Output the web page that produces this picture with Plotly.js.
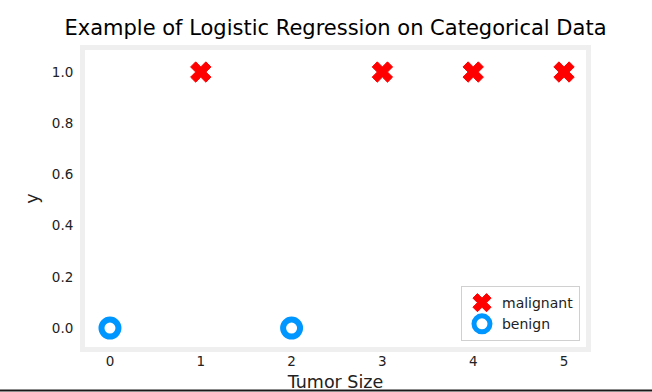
<!DOCTYPE html>
<html>
<head>
<meta charset="utf-8">
<script src="https://cdn.plot.ly/plotly-3.0.1.min.js"></script>
<style>html,body{margin:0;padding:0;background:#fff;}#chart{width:652px;height:392px;}</style>
</head>
<body>
<div id="chart"></div>
<script>
const titleText = "Example of Logistic Regression on Categorical Data";
const xLabel = "Tumor Size";
const yLabel = "y";
const malignantX = [1, 3, 4, 5];
const malignantY = [1, 1, 1, 1];
const benignX = [0, 2];
const benignY = [0, 0];
const xTicks = [0, 1, 2, 3, 4, 5];
const yTicks = [0.0, 0.2, 0.4, 0.6, 0.8, 1.0];
const yTickText = ["0.0", "0.2", "0.4", "0.6", "0.8", "1.0"];

const font = "DejaVu Sans, sans-serif";
const W = 652, H = 392;
const m = {l: 85, r: 66, t: 50, b: 45};
const pw = W - m.l - m.r, ph = H - m.t - m.b;
const bw = 5;

const traces = [
  {x: malignantX, y: malignantY, mode: 'markers', name: 'malignant', type: 'scatter',
   marker: {symbol: 'x', size: 18, color: '#ff0000', line: {width: 1, color: '#ff0000'}}},
  {x: benignX, y: benignY, mode: 'markers', name: 'benign', type: 'scatter',
   marker: {symbol: 'circle-open', size: 17, color: '#0096ff', line: {width: 6, color: '#0096ff'}}}
];

const layout = {
  width: W, height: H, margin: m,
  paper_bgcolor: '#ffffff', plot_bgcolor: '#ffffff',
  font: {family: font, size: 13.5, color: '#000000'},
  title: {text: titleText, font: {family: font, size: 21, color: '#000'}, x: (m.l + pw/2)/W, xanchor: 'center', y: 1 - 28/H, yanchor: 'middle'},
  showlegend: true,
  legend: {x: 0.988, xanchor: 'right', y: 0.02, yanchor: 'bottom', bgcolor: 'rgba(255,255,255,0.8)', bordercolor: '#d0d0d0', borderwidth: 1, font: {family: font, size: 14, color: '#222'}},
  xaxis: {range: [-0.275, 5.242], tickvals: xTicks, ticktext: xTicks.map(String), showgrid: false, zeroline: false, showline: false,
          ticks: 'outside', ticklen: 2, tickcolor: 'rgba(0,0,0,0)', tickfont: {size: 13.5, color: '#222'},
          title: {text: xLabel, font: {family: font, size: 17.5, color: '#222'}, standoff: 14}},
  yaxis: {range: [-0.074, 1.086], tickvals: yTicks, ticktext: yTickText, showgrid: false, zeroline: false, showline: false,
          ticks: 'outside', ticklen: 8, tickcolor: 'rgba(0,0,0,0)', tickfont: {size: 13.5, color: '#222'},
          title: {text: yLabel, font: {family: font, size: 17.5, color: '#222'}, standoff: 8}},
  shapes: [
    {type: 'rect', xref: 'paper', yref: 'paper', x0: -(bw/2)/pw, x1: 1 + (bw/2)/pw, y0: -(bw/2)/ph, y1: 1 + (bw/2)/ph,
     line: {color: '#efefef', width: bw}, fillcolor: 'rgba(0,0,0,0)'},
    {type: 'line', xref: 'paper', yref: 'paper', x0: -m.l/pw, x1: (W - m.l)/pw, y0: -(390.5 - (m.t + ph))/ph, y1: -(390.5 - (m.t + ph))/ph,
     line: {color: '#1a1a1a', width: 2}}
  ]
};

Plotly.newPlot('chart', traces, layout, {displayModeBar: false, staticPlot: true});
</script>
</body>
</html>
